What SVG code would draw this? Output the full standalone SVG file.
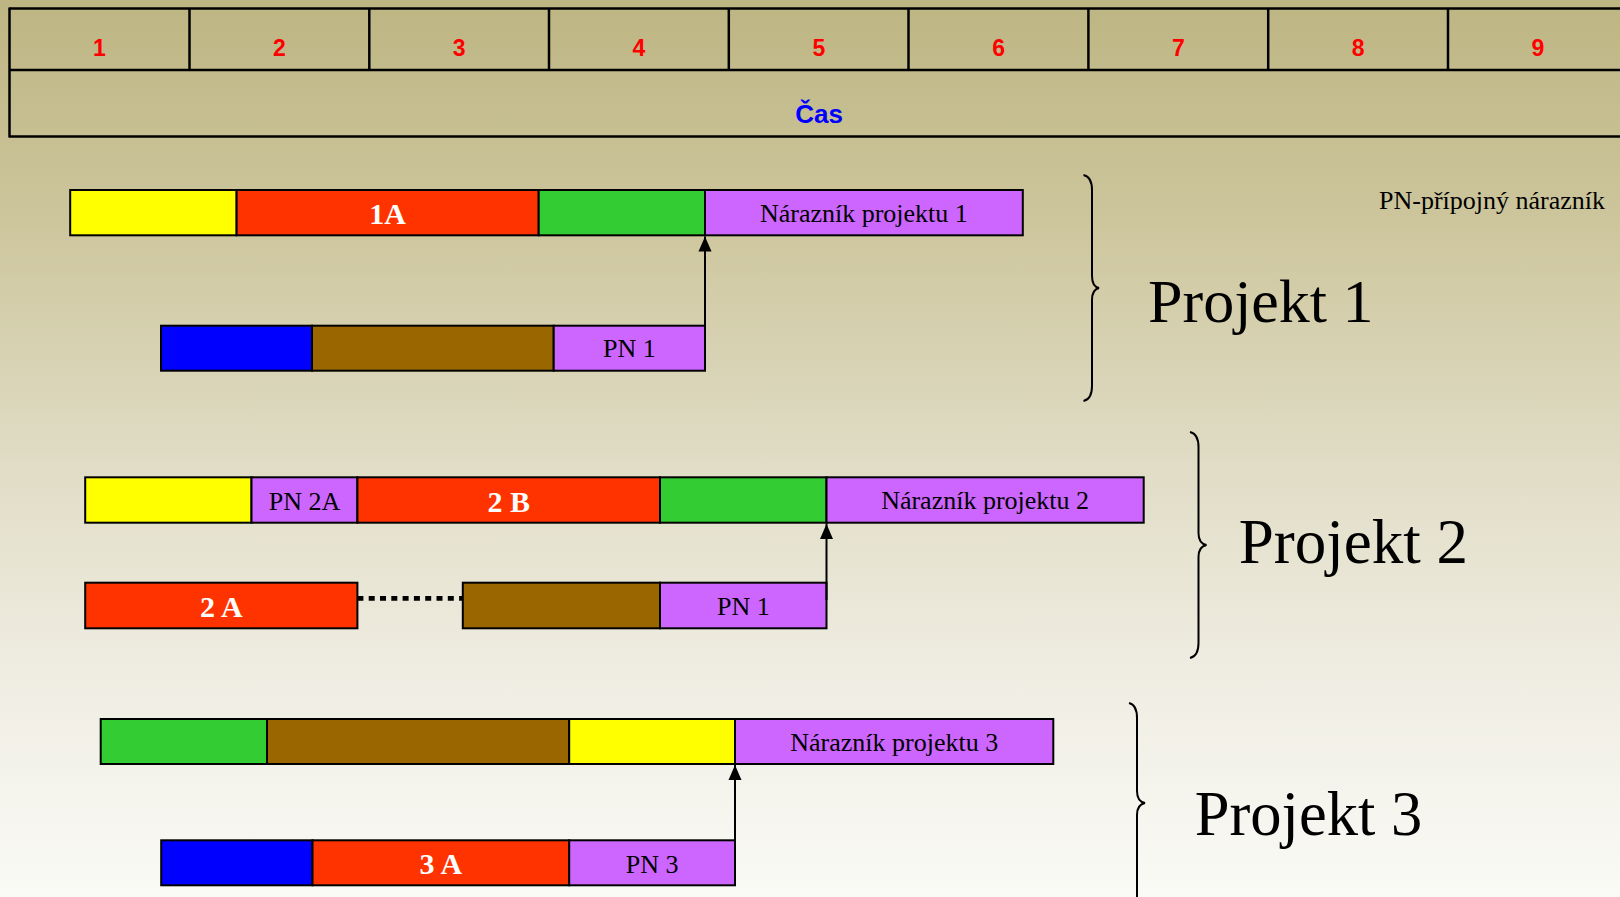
<svg xmlns="http://www.w3.org/2000/svg" width="1620" height="897" viewBox="0 0 1620 897">
<defs>
<linearGradient id="bg" x1="0" y1="0" x2="0" y2="1">
<stop offset="0" stop-color="#bdb582"/>
<stop offset="0.25" stop-color="#cdc69d"/>
<stop offset="0.5" stop-color="#dfdbc3"/>
<stop offset="0.75" stop-color="#efede2"/>
<stop offset="1" stop-color="#fafaf6"/>
</linearGradient>
<marker id="arr" markerUnits="userSpaceOnUse" markerWidth="16" markerHeight="14" refX="15" refY="7" orient="auto" viewBox="0 0 16 14" overflow="visible">
<path d="M0,0.5 L15,7 L0,13.5 Z" fill="#000"/>
</marker>
<style>
.grid{stroke:#000;stroke-width:2.5;fill:none}
.num{font-family:"Liberation Sans",Arial,sans-serif;font-weight:bold;font-size:23px;fill:#ff0000;text-anchor:middle}
.cas{font-family:"Liberation Sans",Arial,sans-serif;font-weight:bold;font-size:26px;fill:#0000ff;text-anchor:middle}
.b{stroke:#000;stroke-width:2}
.y{fill:#ffff00}.r{fill:#ff3300}.g{fill:#33cc33}.p{fill:#cc66ff}.br{fill:#996600}.bl{fill:#0000ff}
.t{font-family:"Liberation Serif","Times New Roman",serif;font-size:26px;fill:#000;text-anchor:middle}
.tw{font-family:"Liberation Serif","Times New Roman",serif;font-size:30px;font-weight:bold;fill:#fff;text-anchor:middle}
.big{font-family:"Liberation Serif","Times New Roman",serif;font-size:62px;fill:#000}
.brace{fill:none;stroke:#000;stroke-width:2}
.conn{stroke:#000;stroke-width:2;fill:none}
</style>
</defs>
<rect x="0" y="0" width="1620" height="897" fill="url(#bg)"/>

<g id="timeline">
<line class="grid" x1="9.5" y1="8.5" x2="1620" y2="8.5"/>
<line class="grid" x1="9.5" y1="70" x2="1620" y2="70"/>
<line class="grid" x1="9.5" y1="136.5" x2="1620" y2="136.5"/>
<line class="grid" x1="9.5" y1="7.5" x2="9.5" y2="137.5" stroke-width="3"/>
<line class="grid" x1="189.5" y1="8.5" x2="189.5" y2="70"/>
<line class="grid" x1="369.3" y1="8.5" x2="369.3" y2="70"/>
<line class="grid" x1="549" y1="8.5" x2="549" y2="70"/>
<line class="grid" x1="728.8" y1="8.5" x2="728.8" y2="70"/>
<line class="grid" x1="908.5" y1="8.5" x2="908.5" y2="70"/>
<line class="grid" x1="1088.4" y1="8.5" x2="1088.4" y2="70"/>
<line class="grid" x1="1268.2" y1="8.5" x2="1268.2" y2="70"/>
<line class="grid" x1="1448" y1="8.5" x2="1448" y2="70"/>
<text class="num" x="99.5" y="56">1</text>
<text class="num" x="279.4" y="56">2</text>
<text class="num" x="459.2" y="56">3</text>
<text class="num" x="639" y="56">4</text>
<text class="num" x="818.8" y="56">5</text>
<text class="num" x="998.6" y="56">6</text>
<text class="num" x="1178.4" y="56">7</text>
<text class="num" x="1358.2" y="56">8</text>
<text class="num" x="1538" y="56">9</text>
<text class="cas" x="819" y="122.5">Čas</text>
</g>

<g id="legend">
<text class="t" x="1605" y="209" style="text-anchor:end;font-size:26px">PN-přípojný nárazník</text>
</g>

<g id="projekt1">
<rect class="b y" x="70.2" y="190" width="166.4" height="45.3"/>
<rect class="b r" x="236.6" y="190" width="302.1" height="45.3"/>
<rect class="b g" x="538.7" y="190" width="166.3" height="45.3"/>
<rect class="b p" x="705" y="190" width="317.8" height="45.3"/>
<text class="tw" x="387.6" y="224">1A</text>
<text class="t" x="863.9" y="221.7">Nárazník projektu 1</text>
<rect class="b bl" x="161" y="325.7" width="151" height="45"/>
<rect class="b br" x="312" y="325.7" width="241.7" height="45"/>
<rect class="b p" x="553.7" y="325.7" width="151.3" height="45"/>
<text class="t" x="629.3" y="357">PN 1</text>
<path class="brace" d="M1083.5,175 Q1092,177 1092,190 L1092,276 Q1092,286.5 1099,288 Q1092,289.5 1092,300 L1092,386 Q1092,399 1083.5,401"/>
<text class="big" x="1148" y="321.7">Projekt 1</text>
</g>

<g id="projekt2">
<rect class="b y" x="85.2" y="477.3" width="166.3" height="45.4"/>
<rect class="b p" x="251.5" y="477.3" width="105.9" height="45.4"/>
<rect class="b r" x="357.4" y="477.3" width="302.6" height="45.4"/>
<rect class="b g" x="660" y="477.3" width="166.5" height="45.4"/>
<rect class="b p" x="826.5" y="477.3" width="317.2" height="45.4"/>
<text class="t" x="304.5" y="509.5">PN 2A</text>
<text class="tw" x="508.7" y="511.8">2 B</text>
<text class="t" x="985.1" y="509.3">Nárazník projektu 2</text>
<rect class="b r" x="85.2" y="582.7" width="272.2" height="45.6"/>
<rect class="b br" x="462.8" y="582.7" width="197.2" height="45.6"/>
<rect class="b p" x="660" y="582.7" width="166.5" height="45.6"/>
<text class="tw" x="221.3" y="616.7">2 A</text>
<text class="t" x="743.3" y="615">PN 1</text>
<path class="brace" d="M1190,432 Q1198.5,434 1198.5,447 L1198.5,533 Q1198.5,543.5 1206.5,545 Q1198.5,546.5 1198.5,557 L1198.5,643 Q1198.5,656 1190,658"/>
<text class="big" x="1238.7" y="563.3" style="font-size:63px">Projekt 2</text>
</g>

<g id="projekt3">
<rect class="b g" x="100.7" y="719" width="166.3" height="45"/>
<rect class="b br" x="267" y="719" width="302.2" height="45"/>
<rect class="b y" x="569.2" y="719" width="165.8" height="45"/>
<rect class="b p" x="735" y="719" width="318.3" height="45"/>
<text class="t" x="894.2" y="751">Nárazník projektu 3</text>
<rect class="b bl" x="161.2" y="840.3" width="151.3" height="45"/>
<rect class="b r" x="312.5" y="840.3" width="256.7" height="45"/>
<rect class="b p" x="569.2" y="840.3" width="165.8" height="45"/>
<text class="tw" x="440.8" y="873.5">3 A</text>
<text class="t" x="652.1" y="872.5">PN 3</text>
<path class="brace" d="M1129,703 Q1137,705 1137,718 L1137,791 Q1137,801.5 1145,803 Q1137,804.5 1137,815 L1137,905"/>
<text class="big" x="1194.8" y="835" style="font-size:62.5px">Projekt 3</text>
</g>

<g id="connectors">
<line class="conn" x1="705" y1="325.7" x2="705" y2="236.5" marker-end="url(#arr)"/>
<line class="conn" x1="826.5" y1="600" x2="826.5" y2="524" marker-end="url(#arr)"/>
<line class="conn" x1="735" y1="840.3" x2="735" y2="765" marker-end="url(#arr)"/>
<line x1="357.4" y1="598.3" x2="462.8" y2="598.3" stroke="#000" stroke-width="4.7" stroke-dasharray="6 5.3"/>
</g>
</svg>
